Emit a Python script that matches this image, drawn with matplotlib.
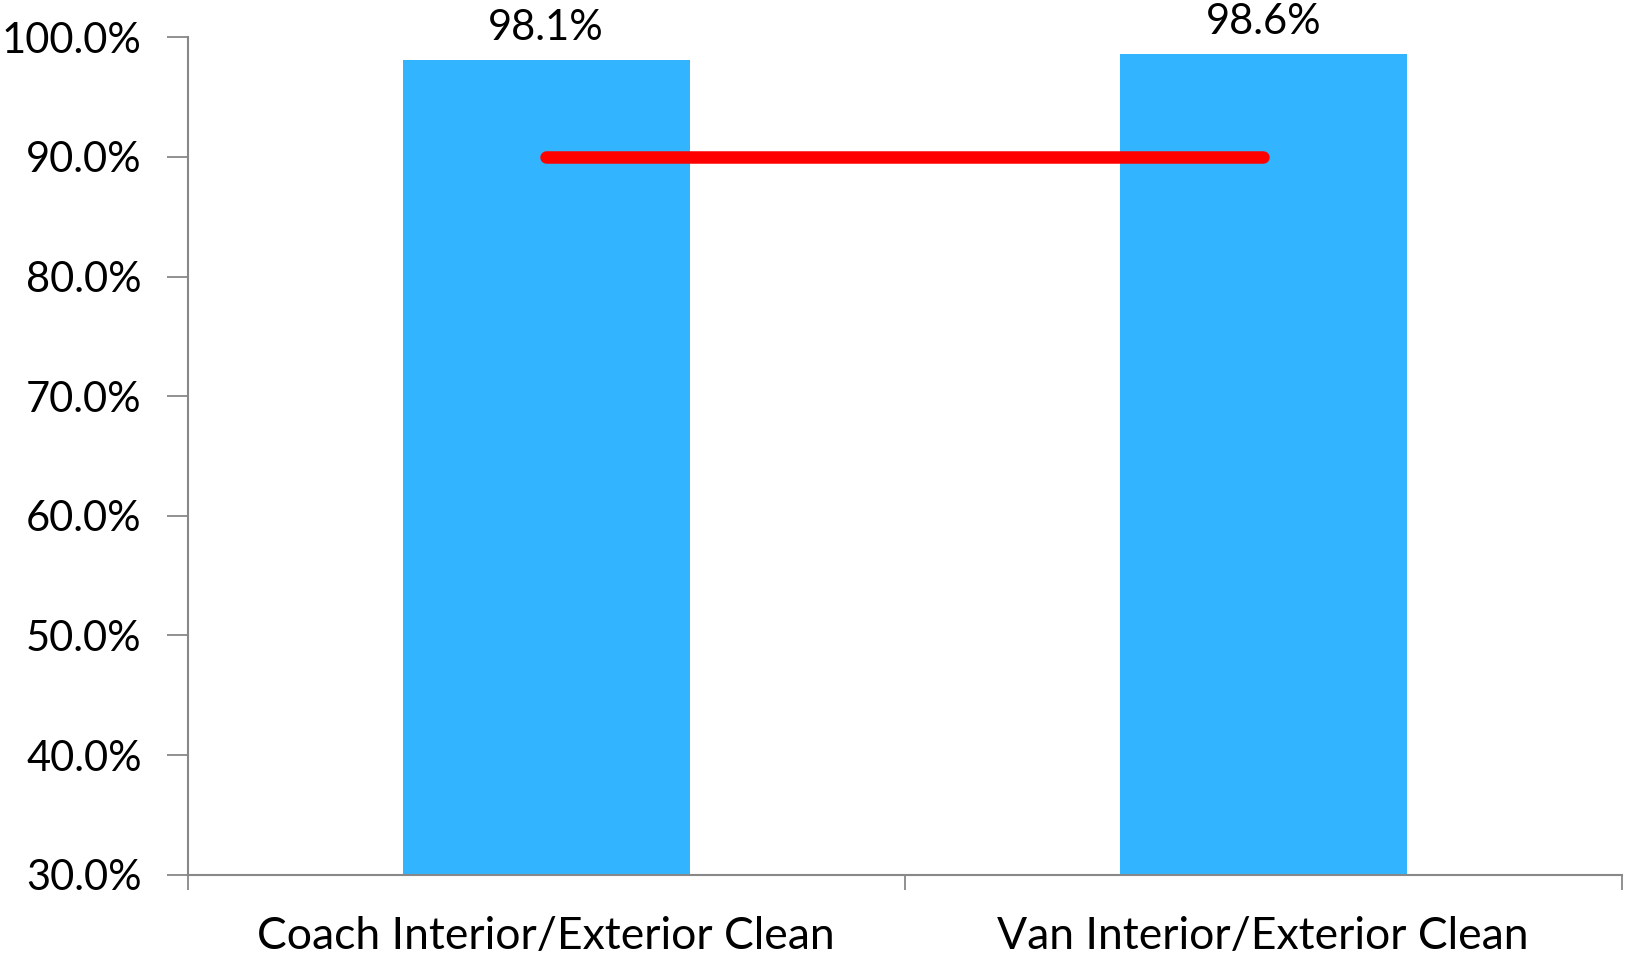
import numpy as np
import matplotlib.pyplot as plt
from matplotlib.ticker import FuncFormatter

categories = ["Coach Interior/Exterior Clean", "Van Interior/Exterior Clean"]
actual = [0.981, 0.986]
target = [0.90, 0.90]

plt.rcParams['font.family'] = ['Lato', 'DejaVu Sans']

fig = plt.figure(figsize=(16.25, 9.55), dpi=100)
ax = fig.add_axes([0.1154, 0.0841, 0.8826, 0.8769])

x = np.arange(len(categories))
ax.bar(x, actual, width=0.4, color='#33B4FF', zorder=2)
ax.plot(x, target, color='#FF0000', lw=9, solid_capstyle='round', zorder=3)

for xi, v in zip(x, actual):
    ax.text(xi, v + 0.011, f"{v*100:.1f}%", ha='center', va='bottom', fontsize=30)

ax.set_xlim(-0.5, len(categories) - 0.5)
ax.set_ylim(0.3, 1.0)
ax.set_yticks(np.arange(0.3, 1.001, 0.1))
ax.yaxis.set_major_formatter(FuncFormatter(lambda v, p: f"{v*100:.1f}%"))

# category boundaries carry the x ticks, labels sit at the centres
ax.set_xticks([-0.5, 0.5, 1.5])
ax.set_xticklabels([])
ax.set_xticks(x, minor=True)
ax.set_xticklabels(categories, minor=True, fontsize=32)
ax.tick_params(axis='x', which='minor', length=0, pad=30)
ax.tick_params(axis='x', which='major', length=11, width=1.3, color='#888888')
ax.tick_params(axis='y', length=15, width=1.3, color='#888888', labelsize=30, pad=18)

for s in ['top', 'right']:
    ax.spines[s].set_visible(False)
for s in ['left', 'bottom']:
    ax.spines[s].set_color('#888888')
    ax.spines[s].set_linewidth(1.5)

fig.savefig('out.png', dpi=100)
